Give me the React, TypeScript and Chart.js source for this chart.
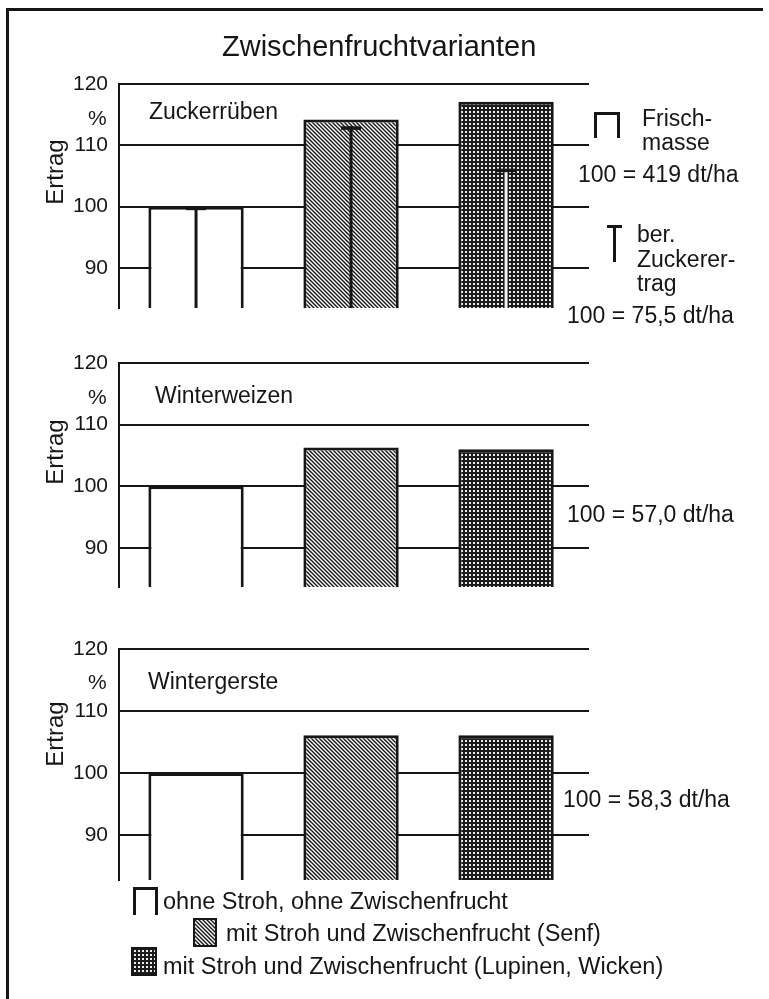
import React, { useEffect, useRef } from "react";
import { Chart, registerables } from "chart.js";

Chart.register(...registerables);

// ---- data ----
const categories = [
  "ohne Stroh, ohne Zwischenfrucht",
  "mit Stroh und Zwischenfrucht (Senf)",
  "mit Stroh und Zwischenfrucht (Lupinen, Wicken)",
];
const zuckerFrischmasse = [100, 114.2, 117.1];
const zuckerZuckerertrag = [100, 113.1, 106.2];
const winterweizen = [100, 106.3, 106.0];
const wintergerste = [100, 106.1, 106.1];
const yTicks = [90, 100, 110, 120];
const panelNames = ["Zuckerrüben", "Winterweizen", "Wintergerste"];
const title = "Zwischenfruchtvarianten";
const axisTitle = "Ertrag";
const unitLabel = "%";
const refFrisch = "100 = 419 dt/ha";
const refZucker = "100 = 75,5 dt/ha";
const refWeizen = "100 = 57,0 dt/ha";
const refGerste = "100 = 58,3 dt/ha";

const FONT = '"Liberation Sans", Arial, Helvetica, sans-serif';
const INK = "#161616";
const PAD = 30;

function makeHatch(): HTMLCanvasElement {
  const c = document.createElement("canvas");
  c.width = 4;
  c.height = 4;
  const g = c.getContext("2d")!;
  g.fillStyle = "#ffffff";
  g.fillRect(0, 0, 4, 4);
  g.strokeStyle = INK;
  g.lineWidth = 1.4;
  g.beginPath();
  g.moveTo(-1, -1);
  g.lineTo(5, 5);
  g.moveTo(-1, 3);
  g.lineTo(1, 5);
  g.moveTo(3, -1);
  g.lineTo(5, 1);
  g.stroke();
  return c;
}

function makeDots(): HTMLCanvasElement {
  const c = document.createElement("canvas");
  c.width = 4;
  c.height = 4;
  const g = c.getContext("2d")!;
  g.fillStyle = "#1c1c1c";
  g.fillRect(0, 0, 4, 4);
  g.fillStyle = "#eeeeee";
  g.fillRect(1, 1, 2, 2);
  return c;
}

function Txt(props: { x: number; base: number; size: number; children: React.ReactNode }) {
  const { x, base, size, children } = props;
  return (
    <div
      style={{
        position: "absolute",
        left: x,
        top: base - 0.8465 * size,
        fontSize: size,
        lineHeight: `${size}px`,
        whiteSpace: "nowrap",
        fontFamily: FONT,
        color: INK,
      }}
    >
      {children}
    </div>
  );
}

function VText(props: { cx: number; cy: number; size: number; children: React.ReactNode }) {
  const { cx, cy, size, children } = props;
  return (
    <div
      style={{
        position: "absolute",
        left: cx,
        top: cy,
        fontSize: size,
        lineHeight: `${size}px`,
        whiteSpace: "nowrap",
        fontFamily: FONT,
        color: INK,
        transform: "translate(-50%, -50%) rotate(-90deg)",
      }}
    >
      {children}
    </div>
  );
}

const stemColors = [INK, INK, "#f2f2f2"];

function makeConfig(values: number[], yMin: number, fills: any[], withStems: boolean): any {
  const plugins: any[] = [];
  if (withStems) {
    plugins.push({
      id: "sugarStems",
      afterDatasetsDraw(chart: any) {
        const { ctx, chartArea, scales } = chart;
        ctx.save();
        zuckerZuckerertrag.forEach((v, i) => {
          const x = scales.x.getPixelForValue(i);
          const y = scales.y.getPixelForValue(v);
          ctx.fillStyle = stemColors[i];
          ctx.fillRect(x - 1.5, y, 3, chartArea.bottom - y);
          ctx.fillStyle = INK;
          ctx.fillRect(x - 10, y, 20, 3.5);
        });
        ctx.restore();
      },
    });
  }
  return {
    type: "bar",
    data: {
      datasets: [
        {
          label: "Ertrag",
          data: values.map((v, i) => ({ x: i, y: v })),
          backgroundColor: fills,
          borderColor: INK,
          borderWidth: 3,
          borderSkipped: "bottom",
          barPercentage: 0.615,
          categoryPercentage: 1,
        },
      ],
    },
    plugins,
    options: {
      responsive: false,
      animation: false,
      devicePixelRatio: 1,
      layout: { padding: { left: 59, right: 180, top: PAD, bottom: PAD } },
      plugins: { legend: { display: false }, tooltip: { enabled: false } },
      scales: {
        x: {
          type: "linear",
          offset: false,
          min: -0.497,
          max: 2.535,
          display: false,
          grid: { offset: false },
          ticks: { stepSize: 1 },
          afterBuildTicks: (a: any) => {
            a.ticks = categories.map((_, i) => ({ value: i }));
          },
        },
        y: {
          min: yMin,
          max: 120,
          afterBuildTicks: (a: any) => {
            a.ticks = yTicks.map((v) => ({ value: v }));
          },
          afterFit: (s: any) => {
            s.width = 60;
          },
          grid: { color: INK, lineWidth: 2, drawTicks: false },
          border: { display: true, color: INK, width: 2 },
          ticks: {
            padding: 11,
            color: INK,
            font: { family: FONT, size: 21 },
          },
        },
      },
    },
  };
}

export default function App() {
  const c1 = useRef<HTMLCanvasElement>(null);
  const c2 = useRef<HTMLCanvasElement>(null);
  const c3 = useRef<HTMLCanvasElement>(null);
  const lh = useRef<HTMLCanvasElement>(null);
  const ld = useRef<HTMLCanvasElement>(null);

  useEffect(() => {
    const hatchTile = makeHatch();
    const dotTile = makeDots();
    const g0 = c1.current!.getContext("2d")!;
    const hatch = g0.createPattern(hatchTile, "repeat");
    const dots = g0.createPattern(dotTile, "repeat");
    const fills = ["#ffffff", hatch, dots];

    const charts = [
      new Chart(c1.current!, makeConfig(zuckerFrischmasse, 83.48, fills, true)),
      new Chart(c2.current!, makeConfig(winterweizen, 83.68, fills, false)),
      new Chart(c3.current!, makeConfig(wintergerste, 82.74, fills, false)),
    ];

    const paint = (cv: HTMLCanvasElement | null, tile: HTMLCanvasElement) => {
      if (!cv) return;
      const g = cv.getContext("2d")!;
      g.fillStyle = g.createPattern(tile, "repeat")!;
      g.fillRect(0, 0, cv.width, cv.height);
    };
    paint(lh.current, hatchTile);
    paint(ld.current, dotTile);

    return () => charts.forEach((c) => c.destroy());
  }, []);

  const canvasStyle = (top: number, h: number): React.CSSProperties => ({
    position: "absolute",
    left: 0,
    top,
    width: 769,
    height: h,
    display: "block",
  });

  // chart areas: panel1 84..308, panel2 363..587, panel3 649..880
  return (
    <div
      style={{
        position: "absolute",
        left: 0,
        top: 0,
        width: 769,
        height: 999,
        background: "#ffffff",
        overflow: "hidden",
        fontFamily: FONT,
      }}
    >
      <canvas ref={c1} width={769} height={224 + 2 * PAD} style={canvasStyle(84 - PAD, 224 + 2 * PAD)} />
      <canvas ref={c2} width={769} height={224 + 2 * PAD} style={canvasStyle(363 - PAD, 224 + 2 * PAD)} />
      <canvas ref={c3} width={769} height={231 + 2 * PAD} style={canvasStyle(649 - PAD, 231 + 2 * PAD)} />

      {/* frame */}
      <div style={{ position: "absolute", left: 6, top: 8, width: 3, height: 991, background: INK }} />
      <div style={{ position: "absolute", left: 6, top: 8, width: 757, height: 3, background: INK }} />

      <Txt x={222} base={57} size={29}>{title}</Txt>

      {/* panel 1 */}
      <Txt x={88} base={125} size={21}>{unitLabel}</Txt>
      <VText cx={55} cy={172} size={24}>{axisTitle}</VText>
      <Txt x={149} base={119} size={23}>{panelNames[0]}</Txt>

      {/* panel 2 */}
      <Txt x={88} base={404} size={21}>{unitLabel}</Txt>
      <VText cx={55} cy={452} size={24}>{axisTitle}</VText>
      <Txt x={155} base={403} size={23}>{panelNames[1]}</Txt>

      {/* panel 3 */}
      <Txt x={88} base={689} size={21}>{unitLabel}</Txt>
      <VText cx={55} cy={734} size={24}>{axisTitle}</VText>
      <Txt x={148} base={689} size={23}>{panelNames[2]}</Txt>

      {/* right annotations panel 1 */}
      <div
        style={{
          position: "absolute",
          left: 594,
          top: 112,
          width: 26,
          height: 26,
          boxSizing: "border-box",
          borderTop: `3px solid ${INK}`,
          borderLeft: `3px solid ${INK}`,
          borderRight: `3px solid ${INK}`,
        }}
      />
      <Txt x={642} base={126} size={23}>Frisch-</Txt>
      <Txt x={642} base={150} size={23}>masse</Txt>
      <Txt x={578} base={182} size={23}>{refFrisch}</Txt>

      <div style={{ position: "absolute", left: 607, top: 225, width: 15, height: 3, background: INK }} />
      <div style={{ position: "absolute", left: 613, top: 225, width: 3, height: 37, background: INK }} />
      <Txt x={637} base={242} size={23}>ber.</Txt>
      <Txt x={637} base={267} size={23}>Zuckerer-</Txt>
      <Txt x={637} base={291} size={23}>trag</Txt>
      <Txt x={567} base={323} size={23}>{refZucker}</Txt>

      <Txt x={567} base={522} size={23}>{refWeizen}</Txt>
      <Txt x={563} base={807} size={23}>{refGerste}</Txt>

      {/* legend */}
      <div
        style={{
          position: "absolute",
          left: 133,
          top: 887,
          width: 25,
          height: 28,
          boxSizing: "border-box",
          borderTop: `3px solid ${INK}`,
          borderLeft: `3px solid ${INK}`,
          borderRight: `3px solid ${INK}`,
        }}
      />
      <Txt x={163} base={910} size={23.5}>{categories[0]}</Txt>
      <canvas
        ref={lh}
        width={20}
        height={25}
        style={{ position: "absolute", left: 193, top: 918, border: `2px solid ${INK}`, display: "block" }}
      />
      <Txt x={226} base={942} size={23.5}>{categories[1]}</Txt>
      <canvas
        ref={ld}
        width={22}
        height={25}
        style={{ position: "absolute", left: 131, top: 947, border: `2px solid ${INK}`, display: "block" }}
      />
      <Txt x={163} base={975} size={23.5}>{categories[2]}</Txt>
    </div>
  );
}
